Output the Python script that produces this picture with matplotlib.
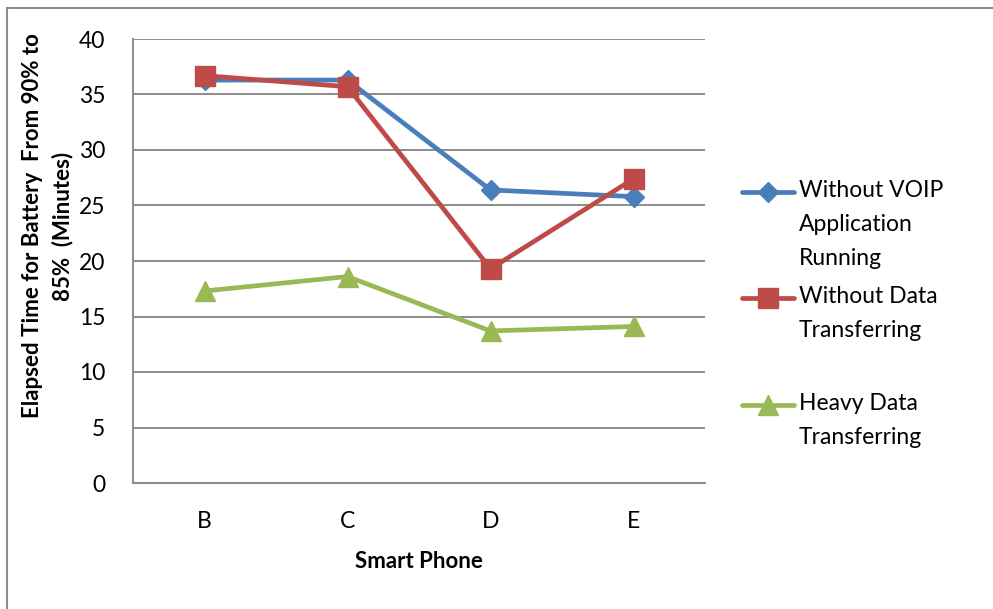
import matplotlib.pyplot as plt
from matplotlib.lines import Line2D

# data
phones = ['B', 'C', 'D', 'E']
no_voip = [36.3, 36.3, 26.4, 25.8]
no_data = [36.7, 35.7, 19.3, 27.4]
heavy_data = [17.3, 18.6, 13.7, 14.1]
labels = ['Without VOIP\nApplication\nRunning', 'Without Data\nTransferring', 'Heavy Data\nTransferring']

plt.rcParams['font.family'] = ['Lato', 'DejaVu Sans']

W, H = 993, 609
fig = plt.figure(figsize=(W / 100, H / 100), dpi=100)
ax = fig.add_axes([133 / W, 1 - 483 / H, (705 - 133) / W, (483 - 39) / H])

series = [
    (no_voip, '#4A7EBB', 'D', 10),
    (no_data, '#BE4B48', 's', 14),
    (heavy_data, '#98B954', '^', 14),
]
x = range(len(phones))
for vals, col, mk, ms in series:
    ax.plot(x, vals, color=col, lw=3.4, marker=mk, markersize=ms,
            markerfacecolor=col, markeredgecolor=col, markeredgewidth=1, zorder=3,
            solid_capstyle='round')

ax.set_xlim(-0.5, len(phones) - 0.5)
ax.set_ylim(0, 40)
ax.set_yticks(range(0, 41, 5))
ax.set_xticks(list(x))
ax.set_xticklabels(phones)
ax.tick_params(axis='both', length=0, labelsize=16.5, colors='black')
ax.tick_params(axis='y', pad=20)
ax.tick_params(axis='x', pad=20)
ax.grid(axis='y', color='#8C8C8C', lw=1.4)
ax.set_axisbelow(True)
for s in ['top', 'right']:
    ax.spines[s].set_visible(False)
for s in ['left', 'bottom']:
    ax.spines[s].set_color('#8C8C8C')
    ax.spines[s].set_linewidth(1.4)

ax.set_xlabel('Smart Phone', fontsize=16, fontweight='bold', labelpad=14)
fig.text(48 / W, 1 - 226 / H, 'Elapsed Time for Battery  From 90% to\n85%  (Minutes)',
         rotation=90, ha='center', va='center', fontsize=16, fontweight='bold',
         linespacing=1.5)

# legend drawn by hand so the handles sit on the first text line
legend_y = [192, 298, 405]
for (vals, col, mk, ms), lab, ly in zip(series, labels, legend_y):
    yy = 1 - ly / H
    fig.add_artist(Line2D([742 / W, 794 / W], [yy, yy], color=col, lw=3.4,
                          solid_capstyle='round'))
    fig.add_artist(Line2D([768 / W], [yy], color=col, marker=mk, markersize=ms,
                          markerfacecolor=col, markeredgecolor=col, lw=0))
    fig.text(799 / W, 1 - (ly - 12) / H, lab, ha='left', va='top', fontsize=16.5,
             linespacing=1.75)

# outer chart frame (left and top edges visible)
fig.add_artist(Line2D([7 / W, 7 / W], [0, 1 - 8 / H], color='#8C8C8C', lw=1.5))
fig.add_artist(Line2D([7 / W, 1], [1 - 8 / H, 1 - 8 / H], color='#8C8C8C', lw=1.5))

fig.savefig('out.png', dpi=100)
